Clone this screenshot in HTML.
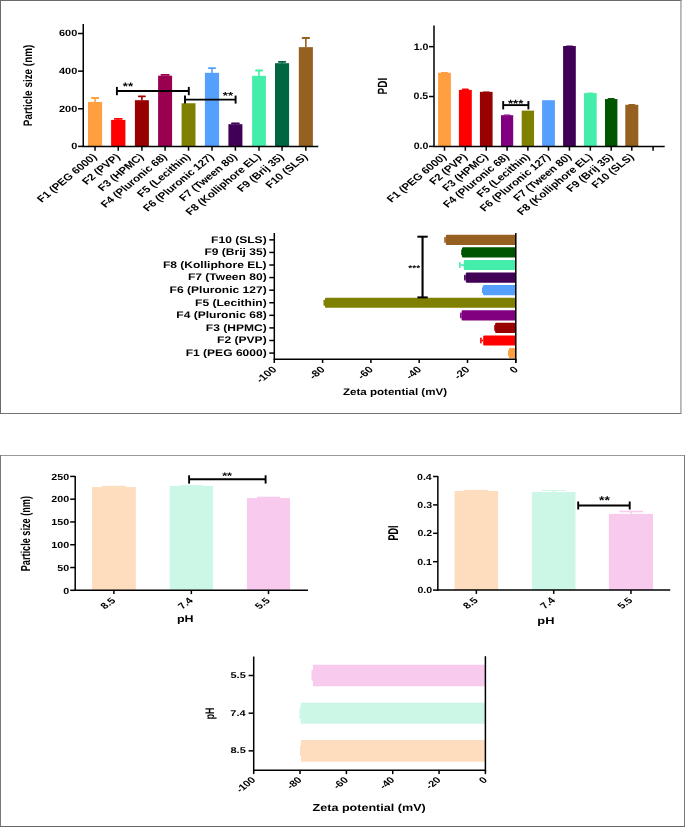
<!DOCTYPE html>
<html><head><meta charset="utf-8"><style>
html,body{margin:0;padding:0;background:#fff;overflow:hidden;}
svg{display:block;}
text{font-family:"Liberation Sans", sans-serif;text-rendering:geometricPrecision;}
svg{will-change:transform;}
</style></head><body>
<svg width="685" height="827" viewBox="0 0 685 827">
<rect x="0" y="0" width="685" height="827" fill="#fff"/>
<line x1="0.00" y1="0.50" x2="681.80" y2="0.50" stroke="#6a6a6a" stroke-width="1.1"/>
<line x1="0.50" y1="0.00" x2="0.50" y2="414.00" stroke="#6a6a6a" stroke-width="1"/>
<line x1="680.90" y1="0.50" x2="680.90" y2="414.00" stroke="#b2b2b2" stroke-width="1.7"/>
<line x1="0.00" y1="413.50" x2="681.00" y2="413.50" stroke="#727272" stroke-width="1"/>
<line x1="0.00" y1="455.50" x2="685.00" y2="455.50" stroke="#999999" stroke-width="1"/>
<line x1="0.50" y1="455.00" x2="0.50" y2="827.00" stroke="#777777" stroke-width="1"/>
<line x1="684.50" y1="455.00" x2="684.50" y2="827.00" stroke="#777777" stroke-width="1"/>
<line x1="0.00" y1="826.50" x2="685.00" y2="826.50" stroke="#666666" stroke-width="1"/>
<text transform="translate(71.16,149.30) scale(1,0.835)" font-size="10.95" font-weight="bold" text-anchor="start">0</text>
<text transform="translate(59.01,111.67) scale(1,0.835)" font-size="10.95" font-weight="bold" text-anchor="start">200</text>
<text transform="translate(59.01,74.04) scale(1,0.835)" font-size="10.95" font-weight="bold" text-anchor="start">400</text>
<text transform="translate(59.01,36.41) scale(1,0.835)" font-size="10.95" font-weight="bold" text-anchor="start">600</text>
<rect x="88.00" y="102.00" width="14.10" height="44.40" fill="#FF9F40" />
<rect x="94.25" y="98.00" width="1.60" height="4.30" fill="#FF9F40" />
<rect x="91.05" y="97.10" width="8.00" height="1.80" fill="#FF9F40" rx="0.6"/>
<text transform="translate(97.45,157.40) scale(1,0.820) rotate(-45)" font-size="11.70" font-weight="bold" text-anchor="end">F1 (PEG 6000)</text>
<rect x="111.10" y="119.90" width="14.30" height="26.50" fill="#FF0000" />
<rect x="117.45" y="118.90" width="1.60" height="1.30" fill="#FF0000" />
<rect x="113.95" y="118.00" width="8.60" height="1.80" fill="#FF0000" rx="0.6"/>
<text transform="translate(120.65,157.40) scale(1,0.820) rotate(-45)" font-size="11.70" font-weight="bold" text-anchor="end">F2 (PVP)</text>
<rect x="134.90" y="100.20" width="14.00" height="46.20" fill="#990000" />
<rect x="141.10" y="96.30" width="1.60" height="4.20" fill="#990000" />
<rect x="138.00" y="95.40" width="7.80" height="1.80" fill="#990000" rx="0.6"/>
<text transform="translate(144.30,157.40) scale(1,0.820) rotate(-45)" font-size="11.70" font-weight="bold" text-anchor="end">F3 (HPMC)</text>
<rect x="158.10" y="75.70" width="14.00" height="70.70" fill="#990050" />
<rect x="160.60" y="74.00" width="9.00" height="1.80" fill="#990050" rx="0.6"/>
<text transform="translate(167.50,157.40) scale(1,0.820) rotate(-45)" font-size="11.70" font-weight="bold" text-anchor="end">F4 (Pluronic 68)</text>
<rect x="181.60" y="103.25" width="13.90" height="43.15" fill="#808000" />
<text transform="translate(190.95,157.40) scale(1,0.820) rotate(-45)" font-size="11.70" font-weight="bold" text-anchor="end">F5 (Lecithin)</text>
<rect x="204.90" y="72.80" width="14.20" height="73.60" fill="#55A0FF" />
<rect x="211.20" y="68.20" width="1.60" height="4.90" fill="#55A0FF" />
<rect x="208.05" y="67.30" width="7.90" height="1.80" fill="#55A0FF" rx="0.6"/>
<text transform="translate(214.40,157.40) scale(1,0.820) rotate(-45)" font-size="11.70" font-weight="bold" text-anchor="end">F6 (Pluronic 127)</text>
<rect x="228.40" y="124.20" width="14.00" height="22.20" fill="#400055" />
<rect x="234.60" y="123.30" width="1.60" height="1.20" fill="#400055" />
<rect x="231.10" y="122.40" width="8.60" height="1.80" fill="#400055" rx="0.6"/>
<text transform="translate(237.80,157.40) scale(1,0.820) rotate(-45)" font-size="11.70" font-weight="bold" text-anchor="end">F7 (Tween 80)</text>
<rect x="252.10" y="75.80" width="13.80" height="70.60" fill="#44EEAA" />
<rect x="258.20" y="70.50" width="1.60" height="5.60" fill="#44EEAA" />
<rect x="255.20" y="69.60" width="7.60" height="1.80" fill="#44EEAA" rx="0.6"/>
<text transform="translate(261.40,157.40) scale(1,0.820) rotate(-45)" font-size="11.70" font-weight="bold" text-anchor="end">F8 (Kolliphore EL)</text>
<rect x="275.00" y="63.20" width="14.10" height="83.20" fill="#006640" />
<rect x="281.25" y="61.80" width="1.60" height="1.70" fill="#006640" />
<rect x="277.95" y="60.90" width="8.20" height="1.80" fill="#006640" rx="0.6"/>
<text transform="translate(284.45,157.40) scale(1,0.820) rotate(-45)" font-size="11.70" font-weight="bold" text-anchor="end">F9 (Brij 35)</text>
<rect x="298.80" y="47.15" width="14.10" height="99.25" fill="#956020" />
<rect x="305.05" y="38.00" width="1.60" height="9.45" fill="#956020" />
<rect x="301.75" y="37.10" width="8.20" height="1.80" fill="#956020" rx="0.6"/>
<text transform="translate(308.25,157.40) scale(1,0.820) rotate(-45)" font-size="11.70" font-weight="bold" text-anchor="end">F10 (SLS)</text>
<text transform="translate(31.70,126.14) scale(1,0.804) rotate(-90)" font-size="12.32" font-weight="bold" text-anchor="start">Particle size (nm)</text>
<line x1="116.90" y1="91.00" x2="188.80" y2="91.00" stroke="#000" stroke-width="1.9"/>
<line x1="116.90" y1="86.90" x2="116.90" y2="95.20" stroke="#000" stroke-width="1.9"/>
<line x1="188.80" y1="86.90" x2="188.80" y2="95.20" stroke="#000" stroke-width="1.9"/>
<text transform="translate(122.83,90.46) scale(1,0.816)" font-size="13.25" font-weight="bold" text-anchor="start">**</text>
<line x1="185.00" y1="99.60" x2="235.60" y2="99.60" stroke="#000" stroke-width="1.9"/>
<line x1="185.00" y1="95.60" x2="185.00" y2="103.60" stroke="#000" stroke-width="1.9"/>
<line x1="235.60" y1="95.60" x2="235.60" y2="103.60" stroke="#000" stroke-width="1.9"/>
<text transform="translate(222.83,98.69) scale(1,0.773)" font-size="13.12" font-weight="bold" text-anchor="start">**</text>
<text transform="translate(413.69,149.36) scale(1,0.880)" font-size="10.60" font-weight="bold" text-anchor="start">0.0</text>
<text transform="translate(413.53,99.49) scale(1,0.880)" font-size="10.60" font-weight="bold" text-anchor="start">0.5</text>
<text transform="translate(413.69,49.61) scale(1,0.880)" font-size="10.60" font-weight="bold" text-anchor="start">1.0</text>
<rect x="438.10" y="72.80" width="12.80" height="73.60" fill="#FF9F40" />
<rect x="440.90" y="72.10" width="7.20" height="1.00" fill="#FF9F40" rx="1.2"/>
<text transform="translate(447.10,157.40) scale(1,0.820) rotate(-45)" font-size="11.70" font-weight="bold" text-anchor="end">F1 (PEG 6000)</text>
<rect x="458.90" y="89.90" width="12.90" height="56.50" fill="#FF0000" />
<rect x="461.75" y="88.60" width="7.20" height="1.60" fill="#FF0000" rx="1.2"/>
<text transform="translate(467.95,157.40) scale(1,0.820) rotate(-45)" font-size="11.70" font-weight="bold" text-anchor="end">F2 (PVP)</text>
<rect x="479.90" y="91.85" width="12.70" height="54.55" fill="#990000" />
<rect x="482.65" y="91.40" width="7.20" height="0.75" fill="#990000" rx="1.2"/>
<text transform="translate(488.85,157.40) scale(1,0.820) rotate(-45)" font-size="11.70" font-weight="bold" text-anchor="end">F3 (HPMC)</text>
<rect x="501.00" y="115.20" width="12.20" height="31.20" fill="#800080" />
<rect x="503.50" y="114.50" width="7.20" height="1.00" fill="#800080" rx="1.2"/>
<text transform="translate(509.70,157.40) scale(1,0.820) rotate(-45)" font-size="11.70" font-weight="bold" text-anchor="end">F4 (Pluronic 68)</text>
<rect x="521.70" y="110.60" width="12.35" height="35.80" fill="#808000" />
<text transform="translate(530.48,157.40) scale(1,0.820) rotate(-45)" font-size="11.70" font-weight="bold" text-anchor="end">F5 (Lecithin)</text>
<rect x="542.10" y="100.20" width="12.80" height="46.20" fill="#55A0FF" />
<text transform="translate(551.10,157.40) scale(1,0.820) rotate(-45)" font-size="11.70" font-weight="bold" text-anchor="end">F6 (Pluronic 127)</text>
<rect x="563.10" y="46.00" width="12.70" height="100.40" fill="#400055" />
<rect x="565.85" y="45.40" width="7.20" height="0.90" fill="#400055" rx="1.2"/>
<text transform="translate(572.05,157.40) scale(1,0.820) rotate(-45)" font-size="11.70" font-weight="bold" text-anchor="end">F7 (Tween 80)</text>
<rect x="584.00" y="93.10" width="12.70" height="53.30" fill="#44EEAA" />
<rect x="586.75" y="92.40" width="7.20" height="1.00" fill="#44EEAA" rx="1.2"/>
<text transform="translate(592.95,157.40) scale(1,0.820) rotate(-45)" font-size="11.70" font-weight="bold" text-anchor="end">F8 (Kolliphore EL)</text>
<rect x="605.00" y="99.05" width="12.40" height="47.35" fill="#005500" />
<rect x="607.60" y="97.90" width="7.20" height="1.45" fill="#005500" rx="1.2"/>
<text transform="translate(613.80,157.40) scale(1,0.820) rotate(-45)" font-size="11.70" font-weight="bold" text-anchor="end">F9 (Brij 35)</text>
<rect x="625.30" y="104.80" width="13.00" height="41.60" fill="#956020" />
<rect x="628.20" y="104.10" width="7.20" height="1.00" fill="#956020" rx="1.2"/>
<text transform="translate(634.40,157.40) scale(1,0.820) rotate(-45)" font-size="11.70" font-weight="bold" text-anchor="end">F10 (SLS)</text>
<text transform="translate(386.80,94.45) scale(1,0.752) rotate(-90)" font-size="13.33" font-weight="bold" text-anchor="start">PDI</text>
<line x1="503.20" y1="105.10" x2="528.40" y2="105.10" stroke="#000" stroke-width="1.9"/>
<line x1="503.20" y1="101.10" x2="503.20" y2="109.40" stroke="#000" stroke-width="1.9"/>
<line x1="528.40" y1="101.10" x2="528.40" y2="109.40" stroke="#000" stroke-width="1.9"/>
<text transform="translate(507.98,107.23) scale(1,0.791)" font-size="13.15" font-weight="bold" text-anchor="start">***</text>
<text transform="translate(277.20,370.20) scale(1,0.800) rotate(-45)" font-size="11.60" font-weight="bold" text-anchor="end">-100</text>
<text transform="translate(325.50,370.20) scale(1,0.800) rotate(-45)" font-size="11.60" font-weight="bold" text-anchor="end">-80</text>
<text transform="translate(373.80,370.20) scale(1,0.800) rotate(-45)" font-size="11.60" font-weight="bold" text-anchor="end">-60</text>
<text transform="translate(422.10,370.20) scale(1,0.800) rotate(-45)" font-size="11.60" font-weight="bold" text-anchor="end">-40</text>
<text transform="translate(470.40,370.20) scale(1,0.800) rotate(-45)" font-size="11.60" font-weight="bold" text-anchor="end">-20</text>
<text transform="translate(518.70,370.20) scale(1,0.800) rotate(-45)" font-size="11.60" font-weight="bold" text-anchor="end">0</text>
<text transform="translate(211.09,242.72) scale(1,0.800)" font-size="12.05" font-weight="bold" text-anchor="start">F10 (SLS)</text>
<rect x="445.80" y="234.75" width="70.00" height="10.20" fill="#956020" rx="1.2"/>
<rect x="445.60" y="239.05" width="0.50" height="1.60" fill="#956020" />
<rect x="444.20" y="236.95" width="1.60" height="5.80" fill="#956020" rx="0.6"/>
<text transform="translate(204.40,255.30) scale(1,0.800)" font-size="12.05" font-weight="bold" text-anchor="start">F9 (Brij 35)</text>
<rect x="462.00" y="247.33" width="53.80" height="10.20" fill="#005500" rx="1.2"/>
<rect x="461.20" y="249.53" width="1.60" height="5.80" fill="#005500" rx="0.6"/>
<text transform="translate(162.89,267.88) scale(1,0.800)" font-size="12.05" font-weight="bold" text-anchor="start">F8 (Kolliphore EL)</text>
<rect x="463.80" y="259.91" width="52.00" height="10.20" fill="#44EEAA" rx="1.2"/>
<rect x="460.50" y="264.21" width="3.60" height="1.60" fill="#44EEAA" />
<rect x="459.10" y="262.11" width="1.60" height="5.80" fill="#44EEAA" rx="0.6"/>
<text transform="translate(187.90,280.46) scale(1,0.800)" font-size="12.05" font-weight="bold" text-anchor="start">F7 (Tween 80)</text>
<rect x="465.80" y="272.49" width="50.00" height="10.20" fill="#400055" rx="1.2"/>
<rect x="465.50" y="276.79" width="0.60" height="1.60" fill="#400055" />
<rect x="464.10" y="274.69" width="1.60" height="5.80" fill="#400055" rx="0.6"/>
<text transform="translate(169.58,293.04) scale(1,0.800)" font-size="12.05" font-weight="bold" text-anchor="start">F6 (Pluronic 127)</text>
<rect x="482.90" y="285.07" width="32.90" height="10.20" fill="#55A0FF" rx="1.2"/>
<rect x="482.00" y="287.27" width="1.60" height="5.80" fill="#55A0FF" rx="0.6"/>
<text transform="translate(195.07,305.62) scale(1,0.800)" font-size="12.05" font-weight="bold" text-anchor="start">F5 (Lecithin)</text>
<rect x="325.00" y="297.65" width="190.80" height="10.20" fill="#808000" rx="1.2"/>
<rect x="323.50" y="299.85" width="1.60" height="5.80" fill="#808000" rx="0.6"/>
<text transform="translate(176.27,318.20) scale(1,0.800)" font-size="12.05" font-weight="bold" text-anchor="start">F4 (Pluronic 68)</text>
<rect x="461.60" y="310.23" width="54.20" height="10.20" fill="#800080" rx="1.2"/>
<rect x="460.10" y="312.43" width="1.60" height="5.80" fill="#800080" rx="0.6"/>
<text transform="translate(205.79,330.78) scale(1,0.800)" font-size="12.05" font-weight="bold" text-anchor="start">F3 (HPMC)</text>
<rect x="495.10" y="322.81" width="20.70" height="10.20" fill="#990000" rx="1.2"/>
<rect x="494.20" y="325.01" width="1.60" height="5.80" fill="#990000" rx="0.6"/>
<text transform="translate(217.12,343.36) scale(1,0.800)" font-size="12.05" font-weight="bold" text-anchor="start">F2 (PVP)</text>
<rect x="483.20" y="335.39" width="32.60" height="10.20" fill="#FF0000" rx="1.2"/>
<rect x="481.50" y="339.69" width="2.00" height="1.60" fill="#FF0000" />
<rect x="480.10" y="337.59" width="1.60" height="5.80" fill="#FF0000" rx="0.6"/>
<text transform="translate(185.67,355.94) scale(1,0.800)" font-size="12.05" font-weight="bold" text-anchor="start">F1 (PEG 6000)</text>
<rect x="508.90" y="347.97" width="6.90" height="10.20" fill="#FF9F40" rx="1.2"/>
<rect x="508.00" y="350.17" width="1.60" height="5.80" fill="#FF9F40" rx="0.6"/>
<line x1="422.55" y1="236.70" x2="422.55" y2="297.40" stroke="#000" stroke-width="2.1"/>
<line x1="417.40" y1="236.70" x2="427.70" y2="236.70" stroke="#000" stroke-width="2.0"/>
<line x1="417.40" y1="297.40" x2="427.70" y2="297.40" stroke="#000" stroke-width="2.0"/>
<text transform="translate(408.35,270.68) scale(1,0.831)" font-size="10.09" font-weight="bold" text-anchor="start">***</text>
<text transform="translate(343.05,394.70) scale(1,0.828)" font-size="11.55" font-weight="bold" text-anchor="start">Zeta potential (mV)</text>
<text transform="translate(63.19,593.51) scale(1,0.830)" font-size="10.70" font-weight="bold" text-anchor="start">0</text>
<text transform="translate(57.25,570.73) scale(1,0.830)" font-size="10.70" font-weight="bold" text-anchor="start">50</text>
<text transform="translate(51.31,547.95) scale(1,0.830)" font-size="10.70" font-weight="bold" text-anchor="start">100</text>
<text transform="translate(51.31,525.17) scale(1,0.830)" font-size="10.70" font-weight="bold" text-anchor="start">150</text>
<text transform="translate(51.31,502.39) scale(1,0.830)" font-size="10.70" font-weight="bold" text-anchor="start">200</text>
<text transform="translate(51.31,479.61) scale(1,0.830)" font-size="10.70" font-weight="bold" text-anchor="start">250</text>
<rect x="92.00" y="487.10" width="43.80" height="103.20" fill="#FDDDBD" />
<rect x="101.90" y="485.80" width="24.00" height="1.50" fill="#FDDDBD" />
<text transform="translate(116.20,601.10) scale(1,0.750) rotate(-45)" font-size="11.40" font-weight="bold" text-anchor="end">8.5</text>
<rect x="169.70" y="486.00" width="43.30" height="104.30" fill="#CCF7E6" />
<rect x="179.55" y="485.10" width="23.60" height="1.10" fill="#CCF7E6" />
<text transform="translate(193.65,601.10) scale(1,0.750) rotate(-45)" font-size="11.40" font-weight="bold" text-anchor="end">7.4</text>
<rect x="246.90" y="498.10" width="43.20" height="92.20" fill="#F7CAEE" />
<rect x="256.95" y="496.70" width="23.10" height="1.60" fill="#F7CAEE" />
<text transform="translate(270.80,601.10) scale(1,0.750) rotate(-45)" font-size="11.40" font-weight="bold" text-anchor="end">5.5</text>
<text transform="translate(176.89,621.60) scale(1,0.777)" font-size="12.50" font-weight="bold" text-anchor="start">pH</text>
<text transform="translate(29.50,571.30) scale(1,0.703) rotate(-90)" font-size="13.04" font-weight="bold" text-anchor="start">Particle size (nm)</text>
<line x1="189.10" y1="479.30" x2="265.60" y2="479.30" stroke="#000" stroke-width="1.9"/>
<line x1="189.10" y1="475.30" x2="189.10" y2="483.60" stroke="#000" stroke-width="1.9"/>
<line x1="265.60" y1="475.30" x2="265.60" y2="483.60" stroke="#000" stroke-width="1.9"/>
<text transform="translate(222.14,479.03) scale(1,0.743)" font-size="12.73" font-weight="bold" text-anchor="start">**</text>
<text transform="translate(417.39,593.28) scale(1,0.830)" font-size="10.60" font-weight="bold" text-anchor="start">0.0</text>
<text transform="translate(417.23,564.88) scale(1,0.830)" font-size="10.60" font-weight="bold" text-anchor="start">0.1</text>
<text transform="translate(417.39,536.48) scale(1,0.830)" font-size="10.60" font-weight="bold" text-anchor="start">0.2</text>
<text transform="translate(417.34,508.08) scale(1,0.830)" font-size="10.60" font-weight="bold" text-anchor="start">0.3</text>
<text transform="translate(417.02,479.68) scale(1,0.830)" font-size="10.60" font-weight="bold" text-anchor="start">0.4</text>
<rect x="454.60" y="491.00" width="43.50" height="99.10" fill="#FDDDBD" />
<rect x="464.40" y="489.90" width="23.60" height="1.30" fill="#FDDDBD" />
<rect x="531.90" y="492.00" width="43.60" height="98.10" fill="#CCF7E6" />
<rect x="542.00" y="489.90" width="23.60" height="1.20" fill="#CCF7E6" rx="0.5"/>
<rect x="552.50" y="490.50" width="2.40" height="1.70" fill="#CCF7E6" />
<rect x="608.90" y="513.90" width="44.10" height="76.20" fill="#F7CAEE" />
<rect x="619.20" y="510.80" width="23.90" height="1.50" fill="#F7CAEE" rx="0.7"/>
<rect x="630.15" y="511.50" width="1.60" height="2.60" fill="#F7CAEE" />
<text transform="translate(478.65,600.90) scale(1,0.750) rotate(-45)" font-size="11.40" font-weight="bold" text-anchor="end">8.5</text>
<text transform="translate(556.00,600.90) scale(1,0.750) rotate(-45)" font-size="11.40" font-weight="bold" text-anchor="end">7.4</text>
<text transform="translate(633.25,600.90) scale(1,0.750) rotate(-45)" font-size="11.40" font-weight="bold" text-anchor="end">5.5</text>
<text transform="translate(537.37,623.80) scale(1,0.768)" font-size="12.83" font-weight="bold" text-anchor="start">pH</text>
<text transform="translate(397.90,540.59) scale(1,0.638) rotate(-90)" font-size="14.20" font-weight="bold" text-anchor="start">PDI</text>
<line x1="578.20" y1="505.50" x2="629.70" y2="505.50" stroke="#000" stroke-width="1.9"/>
<line x1="578.20" y1="501.50" x2="578.20" y2="509.50" stroke="#000" stroke-width="1.9"/>
<line x1="629.70" y1="501.50" x2="629.70" y2="509.50" stroke="#000" stroke-width="1.9"/>
<text transform="translate(598.93,503.63) scale(1,0.809)" font-size="14.03" font-weight="bold" text-anchor="start">**</text>
<text transform="translate(256.10,780.50) scale(1,0.800) rotate(-45)" font-size="11.10" font-weight="bold" text-anchor="end">-100</text>
<text transform="translate(302.44,780.50) scale(1,0.800) rotate(-45)" font-size="11.10" font-weight="bold" text-anchor="end">-80</text>
<text transform="translate(348.78,780.50) scale(1,0.800) rotate(-45)" font-size="11.10" font-weight="bold" text-anchor="end">-60</text>
<text transform="translate(395.12,780.50) scale(1,0.800) rotate(-45)" font-size="11.10" font-weight="bold" text-anchor="end">-40</text>
<text transform="translate(441.46,780.50) scale(1,0.800) rotate(-45)" font-size="11.10" font-weight="bold" text-anchor="end">-20</text>
<text transform="translate(487.80,780.50) scale(1,0.800) rotate(-45)" font-size="11.10" font-weight="bold" text-anchor="end">0</text>
<text transform="translate(230.49,678.03) scale(1,0.760)" font-size="11.00" font-weight="bold" text-anchor="start">5.5</text>
<rect x="312.90" y="664.75" width="172.50" height="21.50" fill="#F7CAEE" />
<rect x="311.50" y="670.15" width="1.60" height="10.70" fill="#F7CAEE" />
<text transform="translate(230.26,715.73) scale(1,0.760)" font-size="11.00" font-weight="bold" text-anchor="start">7.4</text>
<rect x="300.70" y="702.65" width="184.70" height="21.10" fill="#CCF7E6" />
<rect x="299.40" y="707.50" width="1.50" height="11.40" fill="#CCF7E6" />
<text transform="translate(230.49,753.38) scale(1,0.760)" font-size="11.00" font-weight="bold" text-anchor="start">8.5</text>
<rect x="301.00" y="740.00" width="184.40" height="21.70" fill="#FDDDBD" />
<rect x="300.00" y="745.65" width="1.20" height="10.40" fill="#FDDDBD" />
<text transform="translate(213.80,719.27) scale(1,0.709) rotate(-90)" font-size="12.46" font-weight="bold" text-anchor="start">pH</text>
<text transform="translate(312.52,811.10) scale(1,0.806)" font-size="12.58" font-weight="bold" text-anchor="start">Zeta potential (mV)</text>
<line x1="83.25" y1="24.00" x2="83.25" y2="147.05" stroke="#000" stroke-width="1.5"/>
<line x1="78.05" y1="146.40" x2="83.25" y2="146.40" stroke="#000" stroke-width="1.5"/>
<line x1="78.05" y1="108.77" x2="83.25" y2="108.77" stroke="#000" stroke-width="1.5"/>
<line x1="78.05" y1="71.14" x2="83.25" y2="71.14" stroke="#000" stroke-width="1.5"/>
<line x1="78.05" y1="33.51" x2="83.25" y2="33.51" stroke="#000" stroke-width="1.5"/>
<line x1="82.60" y1="146.40" x2="318.30" y2="146.40" stroke="#000" stroke-width="1.5"/>
<line x1="95.05" y1="146.40" x2="95.05" y2="150.70" stroke="#000" stroke-width="1.5"/>
<line x1="118.25" y1="146.40" x2="118.25" y2="150.70" stroke="#000" stroke-width="1.5"/>
<line x1="141.90" y1="146.40" x2="141.90" y2="150.70" stroke="#000" stroke-width="1.5"/>
<line x1="165.10" y1="146.40" x2="165.10" y2="150.70" stroke="#000" stroke-width="1.5"/>
<line x1="188.55" y1="146.40" x2="188.55" y2="150.70" stroke="#000" stroke-width="1.5"/>
<line x1="212.00" y1="146.40" x2="212.00" y2="150.70" stroke="#000" stroke-width="1.5"/>
<line x1="235.40" y1="146.40" x2="235.40" y2="150.70" stroke="#000" stroke-width="1.5"/>
<line x1="259.00" y1="146.40" x2="259.00" y2="150.70" stroke="#000" stroke-width="1.5"/>
<line x1="282.05" y1="146.40" x2="282.05" y2="150.70" stroke="#000" stroke-width="1.5"/>
<line x1="305.85" y1="146.40" x2="305.85" y2="150.70" stroke="#000" stroke-width="1.5"/>
<line x1="434.00" y1="25.50" x2="434.00" y2="147.05" stroke="#000" stroke-width="1.5"/>
<line x1="429.00" y1="146.40" x2="434.00" y2="146.40" stroke="#000" stroke-width="1.5"/>
<line x1="429.00" y1="96.53" x2="434.00" y2="96.53" stroke="#000" stroke-width="1.5"/>
<line x1="429.00" y1="46.65" x2="434.00" y2="46.65" stroke="#000" stroke-width="1.5"/>
<line x1="433.35" y1="146.40" x2="664.70" y2="146.40" stroke="#000" stroke-width="1.5"/>
<line x1="444.50" y1="146.40" x2="444.50" y2="150.70" stroke="#000" stroke-width="1.5"/>
<line x1="465.35" y1="146.40" x2="465.35" y2="150.70" stroke="#000" stroke-width="1.5"/>
<line x1="486.25" y1="146.40" x2="486.25" y2="150.70" stroke="#000" stroke-width="1.5"/>
<line x1="507.10" y1="146.40" x2="507.10" y2="150.70" stroke="#000" stroke-width="1.5"/>
<line x1="527.88" y1="146.40" x2="527.88" y2="150.70" stroke="#000" stroke-width="1.5"/>
<line x1="548.50" y1="146.40" x2="548.50" y2="150.70" stroke="#000" stroke-width="1.5"/>
<line x1="569.45" y1="146.40" x2="569.45" y2="150.70" stroke="#000" stroke-width="1.5"/>
<line x1="590.35" y1="146.40" x2="590.35" y2="150.70" stroke="#000" stroke-width="1.5"/>
<line x1="611.20" y1="146.40" x2="611.20" y2="150.70" stroke="#000" stroke-width="1.5"/>
<line x1="631.80" y1="146.40" x2="631.80" y2="150.70" stroke="#000" stroke-width="1.5"/>
<line x1="653.10" y1="146.40" x2="653.10" y2="150.70" stroke="#000" stroke-width="1.5"/>
<line x1="274.30" y1="233.00" x2="274.30" y2="359.85" stroke="#000" stroke-width="1.5"/>
<line x1="273.65" y1="359.20" x2="516.45" y2="359.20" stroke="#000" stroke-width="1.5"/>
<line x1="515.80" y1="233.00" x2="515.80" y2="362.80" stroke="#000" stroke-width="1.5"/>
<line x1="274.30" y1="359.20" x2="274.30" y2="363.00" stroke="#000" stroke-width="1.5"/>
<line x1="322.60" y1="359.20" x2="322.60" y2="363.00" stroke="#000" stroke-width="1.5"/>
<line x1="370.90" y1="359.20" x2="370.90" y2="363.00" stroke="#000" stroke-width="1.5"/>
<line x1="419.20" y1="359.20" x2="419.20" y2="363.00" stroke="#000" stroke-width="1.5"/>
<line x1="467.50" y1="359.20" x2="467.50" y2="363.00" stroke="#000" stroke-width="1.5"/>
<line x1="515.80" y1="359.20" x2="515.80" y2="363.00" stroke="#000" stroke-width="1.5"/>
<line x1="269.30" y1="239.85" x2="274.30" y2="239.85" stroke="#000" stroke-width="1.5"/>
<line x1="269.30" y1="252.43" x2="274.30" y2="252.43" stroke="#000" stroke-width="1.5"/>
<line x1="269.30" y1="265.01" x2="274.30" y2="265.01" stroke="#000" stroke-width="1.5"/>
<line x1="269.30" y1="277.59" x2="274.30" y2="277.59" stroke="#000" stroke-width="1.5"/>
<line x1="269.30" y1="290.17" x2="274.30" y2="290.17" stroke="#000" stroke-width="1.5"/>
<line x1="269.30" y1="302.75" x2="274.30" y2="302.75" stroke="#000" stroke-width="1.5"/>
<line x1="269.30" y1="315.33" x2="274.30" y2="315.33" stroke="#000" stroke-width="1.5"/>
<line x1="269.30" y1="327.91" x2="274.30" y2="327.91" stroke="#000" stroke-width="1.5"/>
<line x1="269.30" y1="340.49" x2="274.30" y2="340.49" stroke="#000" stroke-width="1.5"/>
<line x1="269.30" y1="353.07" x2="274.30" y2="353.07" stroke="#000" stroke-width="1.5"/>
<line x1="75.20" y1="476.10" x2="75.20" y2="590.95" stroke="#000" stroke-width="1.5"/>
<line x1="70.20" y1="590.30" x2="75.20" y2="590.30" stroke="#000" stroke-width="1.5"/>
<line x1="70.20" y1="567.52" x2="75.20" y2="567.52" stroke="#000" stroke-width="1.5"/>
<line x1="70.20" y1="544.74" x2="75.20" y2="544.74" stroke="#000" stroke-width="1.5"/>
<line x1="70.20" y1="521.96" x2="75.20" y2="521.96" stroke="#000" stroke-width="1.5"/>
<line x1="70.20" y1="499.18" x2="75.20" y2="499.18" stroke="#000" stroke-width="1.5"/>
<line x1="70.20" y1="476.40" x2="75.20" y2="476.40" stroke="#000" stroke-width="1.5"/>
<line x1="74.55" y1="590.30" x2="307.90" y2="590.30" stroke="#000" stroke-width="1.5"/>
<line x1="113.90" y1="590.30" x2="113.90" y2="594.10" stroke="#000" stroke-width="1.5"/>
<line x1="191.35" y1="590.30" x2="191.35" y2="594.10" stroke="#000" stroke-width="1.5"/>
<line x1="268.50" y1="590.30" x2="268.50" y2="594.10" stroke="#000" stroke-width="1.5"/>
<line x1="437.85" y1="476.10" x2="437.85" y2="590.75" stroke="#000" stroke-width="1.5"/>
<line x1="433.05" y1="590.10" x2="437.85" y2="590.10" stroke="#000" stroke-width="1.5"/>
<line x1="433.05" y1="561.70" x2="437.85" y2="561.70" stroke="#000" stroke-width="1.5"/>
<line x1="433.05" y1="533.30" x2="437.85" y2="533.30" stroke="#000" stroke-width="1.5"/>
<line x1="433.05" y1="504.90" x2="437.85" y2="504.90" stroke="#000" stroke-width="1.5"/>
<line x1="433.05" y1="476.50" x2="437.85" y2="476.50" stroke="#000" stroke-width="1.5"/>
<line x1="437.20" y1="590.10" x2="670.20" y2="590.10" stroke="#000" stroke-width="1.5"/>
<line x1="476.35" y1="590.10" x2="476.35" y2="593.90" stroke="#000" stroke-width="1.5"/>
<line x1="553.70" y1="590.10" x2="553.70" y2="593.90" stroke="#000" stroke-width="1.5"/>
<line x1="630.95" y1="590.10" x2="630.95" y2="593.90" stroke="#000" stroke-width="1.5"/>
<line x1="253.70" y1="656.50" x2="253.70" y2="770.95" stroke="#000" stroke-width="1.5"/>
<line x1="253.05" y1="770.30" x2="486.05" y2="770.30" stroke="#000" stroke-width="1.5"/>
<line x1="485.40" y1="656.20" x2="485.40" y2="771.60" stroke="#000" stroke-width="1.5"/>
<line x1="253.70" y1="770.30" x2="253.70" y2="774.10" stroke="#000" stroke-width="1.5"/>
<line x1="300.04" y1="770.30" x2="300.04" y2="774.10" stroke="#000" stroke-width="1.5"/>
<line x1="346.38" y1="770.30" x2="346.38" y2="774.10" stroke="#000" stroke-width="1.5"/>
<line x1="392.72" y1="770.30" x2="392.72" y2="774.10" stroke="#000" stroke-width="1.5"/>
<line x1="439.06" y1="770.30" x2="439.06" y2="774.10" stroke="#000" stroke-width="1.5"/>
<line x1="485.40" y1="770.30" x2="485.40" y2="774.10" stroke="#000" stroke-width="1.5"/>
<line x1="248.60" y1="675.50" x2="253.70" y2="675.50" stroke="#000" stroke-width="1.5"/>
<line x1="248.60" y1="713.20" x2="253.70" y2="713.20" stroke="#000" stroke-width="1.5"/>
<line x1="248.60" y1="750.85" x2="253.70" y2="750.85" stroke="#000" stroke-width="1.5"/>
</svg>
</body></html>
